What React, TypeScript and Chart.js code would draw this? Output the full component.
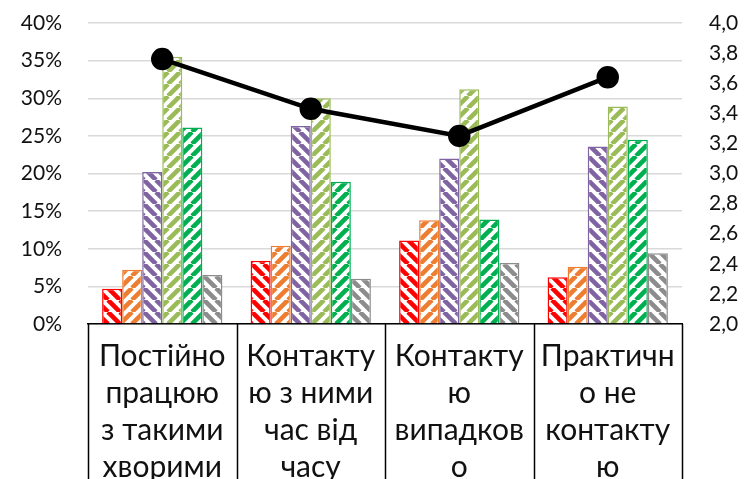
import React, { useEffect, useRef } from "react";
import { Chart, registerables } from "chart.js";

Chart.register(...registerables);

const categories: string[][] = [
  ["Постійно", "працюю", "з такими", "хворими"],
  ["Контакту", "ю з ними", "час від", "часу"],
  ["Контакту", "ю", "випадков", "о"],
  ["Практичн", "о не", "контакту", "ю"],
];

// bar series (fractions, left axis)
const seriesRed = [0.047, 0.084, 0.111, 0.062];
const seriesOrange = [0.072, 0.104, 0.138, 0.076];
const seriesPurple = [0.202, 0.263, 0.22, 0.236];
const seriesLightGreen = [0.355, 0.3, 0.312, 0.289];
const seriesGreen = [0.261, 0.189, 0.139, 0.245];
const seriesGray = [0.065, 0.06, 0.081, 0.094];

// line series (right axis)
const lineValues = [3.76, 3.43, 3.25, 3.64];

const FONT = "Lato, 'Open Sans', sans-serif";

function makePattern(color: string, dir: "/" | "\\"): CanvasPattern | string {
  const s = 12;
  const c = document.createElement("canvas");
  c.width = s;
  c.height = s;
  const ctx = c.getContext("2d");
  if (!ctx) return color;
  ctx.fillStyle = "#ffffff";
  ctx.fillRect(0, 0, s, s);
  ctx.strokeStyle = color;
  ctx.lineWidth = 4.6;
  ctx.beginPath();
  for (let k = -1; k <= 1; k++) {
    if (dir === "/") {
      ctx.moveTo(k * s, s);
      ctx.lineTo(k * s + s, 0);
    } else {
      ctx.moveTo(k * s, 0);
      ctx.lineTo(k * s + s, s);
    }
  }
  ctx.stroke();
  const p = ctx.createPattern(c, "repeat");
  return p || color;
}

const boxLines = {
  id: "boxLines",
  afterDraw(chart: any) {
    const x = chart.scales.x;
    const area = chart.chartArea;
    const ctx = chart.ctx;
    const n = chart.data.labels.length;
    ctx.save();
    ctx.strokeStyle = "#000";
    ctx.lineWidth = 1.5;
    for (let i = 0; i <= n; i++) {
      const px = Math.round(x.left + (i * (x.right - x.left)) / n) + 0.5;
      ctx.beginPath();
      ctx.moveTo(px, area.bottom);
      ctx.lineTo(px, chart.height);
      ctx.stroke();
    }
    ctx.restore();
  },
};

export default function App() {
  const ref = useRef<HTMLCanvasElement | null>(null);
  useEffect(() => {
    if (!ref.current) return;
    const bar = (data: number[], color: string, dir: "/" | "\\") => ({
      type: "bar" as const,
      data,
      backgroundColor: makePattern(color, dir),
      borderColor: color,
      borderWidth: 1.5,
      yAxisID: "y",
      order: 2,
      barPercentage: 1,
      categoryPercentage: 0.81,
    });
    const chart = new Chart(ref.current, {
      type: "bar",
      data: {
        labels: categories as any,
        datasets: [
          bar(seriesRed, "#FF0000", "\\"),
          bar(seriesOrange, "#ED7D31", "/"),
          bar(seriesPurple, "#8064A2", "\\"),
          bar(seriesLightGreen, "#9BBB59", "/"),
          bar(seriesGreen, "#00B050", "/"),
          bar(seriesGray, "#8C8C8C", "\\"),
          {
            type: "line" as const,
            data: lineValues,
            borderColor: "#000",
            backgroundColor: "#000",
            borderWidth: 4.5,
            pointRadius: 9,
            pointBackgroundColor: "#000",
            pointBorderColor: "#000",
            yAxisID: "y1",
            order: 0,
          } as any,
        ],
      },
      options: {
        animation: false,
        responsive: false,
        layout: { padding: { top: 23, left: 0, right: 0, bottom: 0 } },
        plugins: { legend: { display: false }, tooltip: { enabled: false } },
        scales: {
          x: {
            grid: { display: false },
            border: { display: true, color: "#000", width: 1.5 },
            ticks: {
              autoSkip: false,
              maxRotation: 0,
              color: "#111",
              font: { family: FONT, size: 30, lineHeight: "37px" } as any,
              padding: 6,
            },
            afterFit: (s: any) => {
              s.height = 155;
            },
          },
          y: {
            position: "left",
            min: 0,
            max: 0.4,
            ticks: {
              stepSize: 0.05,
              color: "#111",
              padding: 2,
              font: { family: FONT, size: 21 },
              callback: (v: any) => Math.round(Number(v) * 100) + "%",
            },
            grid: {
              color: "#D9D9D9",
              lineWidth: 1.5,
              drawTicks: true,
              tickLength: 24,
              tickColor: "rgba(0,0,0,0)",
            },
            border: { display: false },
            afterFit: (s: any) => {
              s.width = 88;
            },
          },
          y1: {
            position: "right",
            min: 2,
            max: 4,
            ticks: {
              stepSize: 0.2,
              color: "#111",
              padding: 3,
              font: { family: FONT, size: 21 },
              callback: (v: any) => Number(v).toFixed(1).replace(".", ","),
            },
            grid: {
              drawOnChartArea: false,
              drawTicks: true,
              tickLength: 24,
              tickColor: "rgba(0,0,0,0)",
            },
            border: { display: false },
            afterFit: (s: any) => {
              s.width = 68;
            },
          },
        },
      },
      plugins: [boxLines],
    });
    return () => chart.destroy();
  }, []);
  return (
    <div style={{ position: "fixed", left: 0, top: 0, width: 750, height: 479, background: "#fff", overflow: "hidden" }}>
      <canvas ref={ref} width={750} height={479} />
    </div>
  );
}
